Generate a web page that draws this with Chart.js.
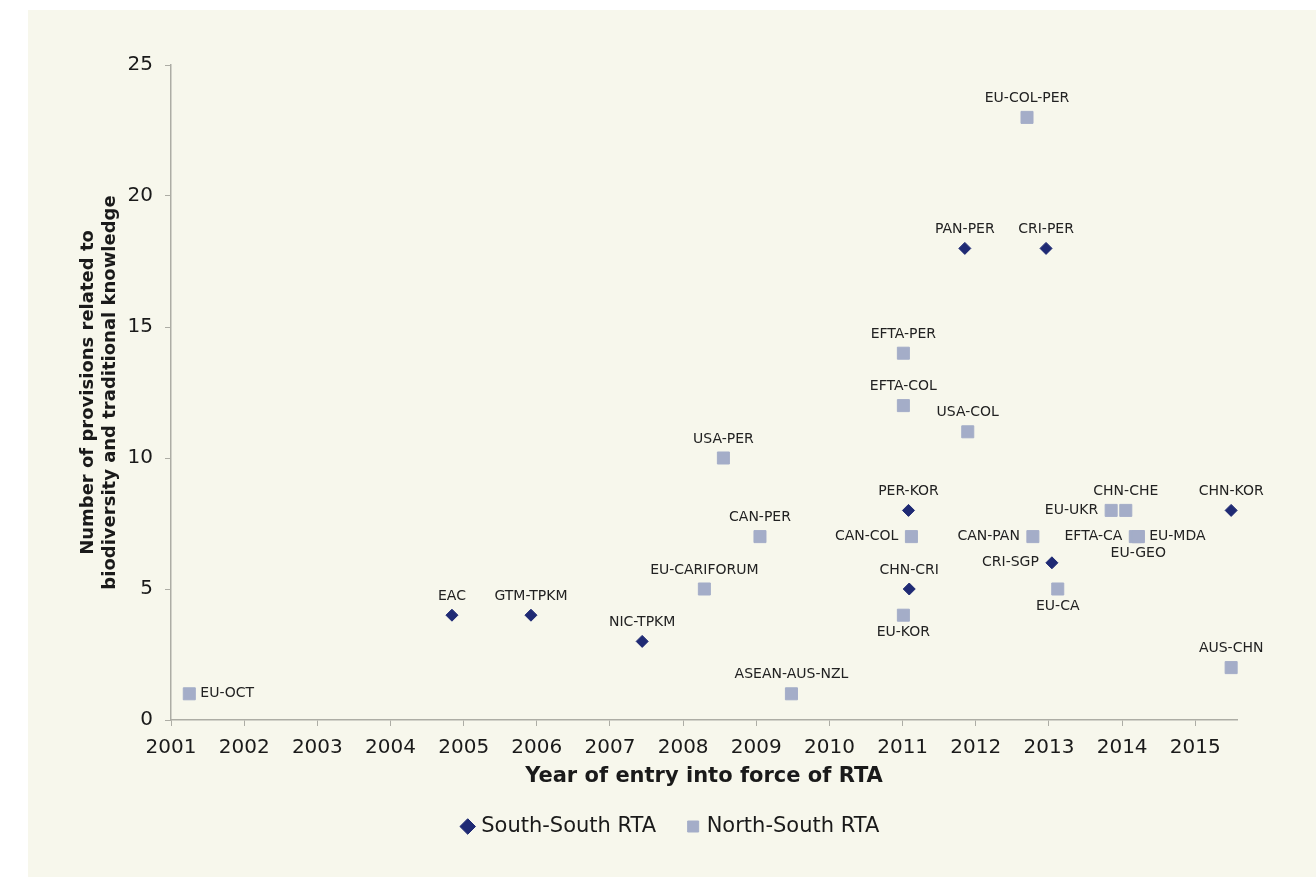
<!DOCTYPE html>
<html lang="en">
<head>
    <meta charset="UTF-8">
    <title>Biodiversity provisions in RTAs</title>
    <script src="https://cdn.jsdelivr.net/npm/chart.js"></script>
    <style>
        body {
            margin: 0;
            background-color: white;
            font-family: "DejaVu Sans", sans-serif;
        }
        #panel {
            position: absolute;
            left: 28px;
            top: 10px;
            width: 1288px;
            height: 867px;
            background-color: #f7f7ec;
        }
    </style>
</head>
<body>
    <div id="panel">
        <canvas id="chart" width="1288" height="867"></canvas>
    </div>

    <script>
        // South-South RTAs
        const southNames = ['EAC', 'GTM-TPKM', 'NIC-TPKM', 'PER-KOR', 'CHN-CRI', 'PAN-PER', 'CRI-PER', 'CRI-SGP', 'CHN-KOR'];
        const southYears = [2004.84, 2005.92, 2007.44, 2011.08, 2011.09, 2011.85, 2012.96, 2013.04, 2015.49];
        const southCounts = [4, 4, 3, 8, 5, 18, 18, 6, 8];

        // North-South RTAs
        const northNames = ['EU-OCT', 'EU-CARIFORUM', 'USA-PER', 'CAN-PER', 'ASEAN-AUS-NZL', 'EFTA-PER', 'EFTA-COL', 'EU-KOR',
            'CAN-COL', 'USA-COL', 'EU-COL-PER', 'CAN-PAN', 'EU-CA', 'EU-UKR', 'CHN-CHE', 'EFTA-CA', 'EU-MDA', 'EU-GEO', 'AUS-CHN'];
        const northYears = [2001.25, 2008.29, 2008.55, 2009.05, 2009.48, 2011.01, 2011.01, 2011.01,
            2011.12, 2011.89, 2012.70, 2012.78, 2013.12, 2013.85, 2014.05, 2014.18, 2014.22, 2014.22, 2015.49];
        const northCounts = [1, 5, 10, 7, 1, 14, 12, 4, 7, 11, 23, 7, 5, 8, 8, 7, 7, 7, 2];

        const yearTicks = [2001, 2002, 2003, 2004, 2005, 2006, 2007, 2008, 2009, 2010, 2011, 2012, 2013, 2014, 2015];

        // where each point label sits (default: above)
        const labelSide = {
            'EU-OCT': 'right', 'EU-KOR': 'below', 'CAN-COL': 'left', 'CAN-PAN': 'left', 'CRI-SGP': 'left',
            'EU-CA': 'below', 'EU-UKR': 'left', 'EFTA-CA': 'left', 'EU-MDA': 'right', 'EU-GEO': 'below'
        };

        const toPoints = (xs, ys) => xs.map((x, i) => ({x: x, y: ys[i]}));

        const pointLabels = {
            id: 'pointLabels',
            afterDatasetsDraw(chart) {
                const ctx = chart.ctx;
                ctx.save();
                ctx.font = '14px "DejaVu Sans"';
                ctx.fillStyle = '#222222';
                ctx.textBaseline = 'middle';
                chart.data.datasets.forEach((ds, di) => {
                    const meta = chart.getDatasetMeta(di);
                    meta.data.forEach((pt, i) => {
                        const name = ds.names[i];
                        const side = labelSide[name] || 'above';
                        if (side === 'above') {
                            ctx.textAlign = 'center';
                            ctx.fillText(name, pt.x, pt.y - 19);
                        } else if (side === 'below') {
                            ctx.textAlign = 'center';
                            ctx.fillText(name, pt.x, pt.y + 17);
                        } else if (side === 'left') {
                            ctx.textAlign = 'right';
                            ctx.fillText(name, pt.x - 13, pt.y);
                        } else {
                            ctx.textAlign = 'left';
                            ctx.fillText(name, pt.x + 11, pt.y);
                        }
                    });
                });
                ctx.restore();
            }
        };

        const axisGray = '#adada5';
        const textColor = '#1a1a1a';

        new Chart(document.getElementById('chart').getContext('2d'), {
            type: 'scatter',
            data: {
                datasets: [
                    {
                        label: 'South-South RTA',
                        names: southNames,
                        data: toPoints(southYears, southCounts),
                        pointStyle: 'rectRot',
                        pointRadius: 6,
                        pointHoverRadius: 6,
                        backgroundColor: '#1f2a74',
                        borderColor: '#1f2a74',
                        borderWidth: 1,
                        clip: false
                    },
                    {
                        label: 'North-South RTA',
                        names: northNames,
                        data: toPoints(northYears, northCounts),
                        pointStyle: 'rect',
                        pointRadius: 8.5,
                        pointHoverRadius: 8.5,
                        backgroundColor: '#a4adc8',
                        borderColor: '#a4adc8',
                        borderWidth: 1,
                        clip: false
                    }
                ]
            },
            options: {
                responsive: false,
                animation: false,
                layout: {
                    padding: {top: 55, left: 0, right: 0, bottom: 30}
                },
                plugins: {
                    tooltip: {enabled: false},
                    legend: {
                        position: 'bottom',
                        labels: {
                            usePointStyle: true,
                            boxHeight: 11,
                            boxWidth: 6,
                            padding: 34,
                            color: textColor,
                            font: {family: '"DejaVu Sans"', size: 21}
                        }
                    }
                },
                scales: {
                    x: {
                        type: 'linear',
                        min: 2001,
                        max: 2015.57,
                        afterBuildTicks: scale => {
                            scale.ticks = yearTicks.map(v => ({value: v}));
                        },
                        afterFit: scale => {
                            scale.height = 62;
                        },
                        grid: {
                            drawOnChartArea: false,
                            color: axisGray,
                            tickLength: 6
                        },
                        border: {color: axisGray, width: 1.5},
                        ticks: {
                            color: textColor,
                            padding: 10,
                            maxRotation: 0,
                            font: {family: '"DejaVu Sans"', size: 20},
                            callback: v => String(v)
                        },
                        title: {
                            display: true,
                            text: 'Year of entry into force of RTA',
                            color: textColor,
                            padding: {top: 0, bottom: -7},
                            font: {family: '"DejaVu Sans"', size: 21, weight: 'bold'}
                        }
                    },
                    y: {
                        min: 0,
                        max: 25,
                        afterFit: scale => {
                            scale.width = 143;
                        },
                        grid: {
                            drawOnChartArea: false,
                            color: axisGray,
                            tickLength: 6
                        },
                        border: {color: axisGray, width: 1.5},
                        ticks: {
                            stepSize: 5,
                            color: textColor,
                            padding: 12,
                            font: {family: '"DejaVu Sans"', size: 20}
                        },
                        title: {
                            display: true,
                            text: ['Number of provisions related to', 'biodiversity and traditional knowledge'],
                            color: textColor,
                            padding: {top: 49, bottom: 0},
                            font: {family: '"DejaVu Sans"', size: 18, weight: 'bold', lineHeight: 1.22}
                        }
                    },
                    // empty axis that only reserves the right margin
                    yRight: {
                        position: 'right',
                        afterFit: scale => {
                            scale.width = 79;
                        },
                        grid: {display: false},
                        border: {display: false},
                        ticks: {display: false}
                    }
                }
            },
            plugins: [pointLabels]
        });
    </script>
</body>
</html>
